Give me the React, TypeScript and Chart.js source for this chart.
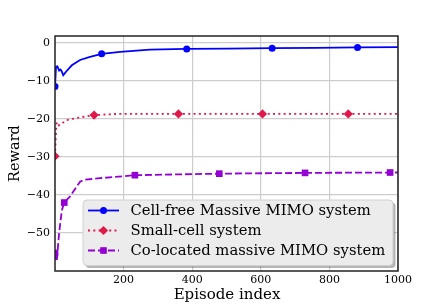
import React, { useEffect, useRef } from "react";
import { Chart, registerables } from "chart.js";

Chart.register(...registerables);

const blueX = [0, 3, 7, 12, 16, 19, 24, 34, 49, 73, 102, 136, 190, 277, 384, 500, 633, 760, 882, 1000];
const blueY = [-11.5, -6.3, -6.2, -7.3, -7.0, -7.4, -8.5, -7.4, -5.9, -4.5, -3.7, -2.9, -2.4, -1.8, -1.6, -1.5, -1.4, -1.3, -1.2, -1.1];
const blueMarkers = [0, 136, 384, 633, 882];

const redX = [0, 4, 6, 12, 20, 34, 73, 114, 180, 360, 605, 855, 1000];
const redY = [-29.8, -21.5, -20.8, -21.7, -21.2, -20.3, -19.6, -19.0, -18.7, -18.7, -18.7, -18.7, -18.7];
const redMarkers = [0, 114, 360, 605, 855];

const purpleX = [0, 5, 12, 20, 27, 44, 73, 87, 131, 233, 479, 729, 977, 1000];
const purpleY = [-55.3, -57.5, -50, -44, -42.0, -40.4, -36.5, -36.0, -35.6, -34.8, -34.4, -34.2, -34.1, -34.1];
const purpleMarkers = [0, 27, 233, 479, 729, 977];

const xTicks = [200, 400, 600, 800, 1000];
const yTicks = [-50, -40, -30, -20, -10, 0];

const seriesLabels = [
  "Cell-free Massive MIMO system",
  "Small-cell system",
  "Co-located massive MIMO system",
];
const xTitle = "Episode index";
const yTitle = "Reward";

const SERIF = "'DejaVu Serif', serif";

const colors = ["#0000ff", "#e0184a", "#9400d3"];
const dashes: number[][] = [[], [2, 3.3], [7, 3]];
const styles = ["circle", "rectRot", "rect"];
const radii = [3.5, 4.6, 4.7];

const overlay = {
  id: "overlay",
  afterDatasetsDraw(chart: any) {
    const { ctx, chartArea: a } = chart;
    ctx.save();
    // frame
    ctx.strokeStyle = "#222";
    ctx.lineWidth = 1.5;
    ctx.strokeRect(a.left, a.top, a.right - a.left, a.bottom - a.top);

    // titles
    ctx.fillStyle = "#000";
    ctx.font = `15px ${SERIF}`;
    ctx.textAlign = "center";
    ctx.textBaseline = "middle";
    ctx.fillText(xTitle, (a.left + a.right) / 2 + 0.5, 295);
    ctx.save();
    ctx.font = `14.5px ${SERIF}`;
    ctx.translate(15, (a.top + a.bottom) / 2);
    ctx.rotate(-Math.PI / 2);
    ctx.fillText(yTitle, 0, 0);
    ctx.restore();

    // legend
    const lx = 83, ly = 200, lw = 310, lh = 65.5, r = 4;
    const rr = (x: number, y: number, w: number, h: number) => {
      ctx.beginPath();
      ctx.moveTo(x + r, y);
      ctx.lineTo(x + w - r, y);
      ctx.quadraticCurveTo(x + w, y, x + w, y + r);
      ctx.lineTo(x + w, y + h - r);
      ctx.quadraticCurveTo(x + w, y + h, x + w - r, y + h);
      ctx.lineTo(x + r, y + h);
      ctx.quadraticCurveTo(x, y + h, x, y + h - r);
      ctx.lineTo(x, y + r);
      ctx.quadraticCurveTo(x, y, x + r, y);
      ctx.closePath();
    };
    rr(lx + 2.5, ly + 2.5, lw, lh);
    ctx.fillStyle = "rgba(120,120,120,0.55)";
    ctx.fill();
    rr(lx, ly, lw, lh);
    ctx.fillStyle = "#ececec";
    ctx.fill();
    ctx.strokeStyle = "#d0d0d0";
    ctx.lineWidth = 1;
    ctx.stroke();

    const rows = [210.5, 230.5, 250.5];
    seriesLabels.forEach((lab, i) => {
      const y = rows[i];
      ctx.strokeStyle = colors[i];
      ctx.lineWidth = 1.8;
      ctx.setLineDash(dashes[i]);
      ctx.beginPath();
      ctx.moveTo(88, y);
      ctx.lineTo(119, y);
      ctx.stroke();
      ctx.setLineDash([]);
      ctx.fillStyle = colors[i];
      const cx = 103.5;
      const rad = radii[i];
      ctx.beginPath();
      if (styles[i] === "circle") {
        ctx.arc(cx, y, rad, 0, Math.PI * 2);
      } else if (styles[i] === "rectRot") {
        ctx.moveTo(cx, y - rad);
        ctx.lineTo(cx + rad, y);
        ctx.lineTo(cx, y + rad);
        ctx.lineTo(cx - rad, y);
        ctx.closePath();
      } else {
        const s = rad * Math.SQRT1_2;
        ctx.rect(cx - s, y - s, 2 * s, 2 * s);
      }
      ctx.fill();
      ctx.fillStyle = "#000";
      ctx.font = `14.8px ${SERIF}`;
      ctx.textAlign = "left";
      ctx.textBaseline = "middle";
      ctx.fillText(lab, 130.5, y + 0.5);
    });
    ctx.restore();
  },
};

function mk(xs: number[], ys: number[], marks: number[], i: number, label: string) {
  return {
    label,
    data: xs.map((x, k) => ({ x, y: ys[k] })),
    borderColor: colors[i],
    backgroundColor: colors[i],
    borderWidth: 1.8,
    borderDash: dashes[i],
    pointStyle: styles[i],
    pointRadius: xs.map((x) => (marks.includes(x) ? radii[i] : 0)),
    pointBorderWidth: 0,
    pointBackgroundColor: colors[i],
    tension: 0,
    fill: false,
  };
}

export default function App() {
  const ref = useRef<HTMLCanvasElement>(null);
  useEffect(() => {
    document.body.style.margin = "0";
    const chart = new Chart(ref.current!, {
      type: "line",
      data: {
        datasets: [
          mk(blueX, blueY, blueMarkers, 0, seriesLabels[0]),
          mk(redX, redY, redMarkers, 1, seriesLabels[1]),
          mk(purpleX, purpleY, purpleMarkers, 2, seriesLabels[2]),
        ] as any,
      },
      options: {
        animation: false,
        responsive: false,
        layout: { padding: { top: 36, right: 45, left: 0, bottom: 0 } },
        plugins: { legend: { display: false }, tooltip: { enabled: false } },
        scales: {
          x: {
            type: "linear",
            min: 0,
            max: 1000,
            afterBuildTicks: (s: any) => {
              s.ticks = xTicks.map((v) => ({ value: v }));
            },
            afterFit: (s: any) => {
              s.height = 34;
            },
            grid: { color: "#cdcdcd", lineWidth: 1.2, drawTicks: false },
            border: { display: false },
            ticks: {
              color: "#000",
              font: { family: SERIF, size: 11 },
              padding: 3,
              maxRotation: 0,
              callback: (v: any) => String(v),
            },
          },
          y: {
            type: "linear",
            min: -60,
            max: 1.8,
            afterBuildTicks: (s: any) => {
              s.ticks = yTicks.map((v) => ({ value: v }));
            },
            afterFit: (s: any) => {
              s.width = 55;
            },
            grid: { color: "#cdcdcd", lineWidth: 1.2, drawTicks: false },
            border: { display: false },
            ticks: {
              color: "#000",
              font: { family: SERIF, size: 11 },
              padding: 5,
              callback: (v: any) => String(v).replace("-", "\u2212"),
            },
          },
        },
      },
      plugins: [overlay],
    });
    return () => chart.destroy();
  }, []);
  return <canvas ref={ref} width={443} height={305} style={{ display: "block" }} />;
}
